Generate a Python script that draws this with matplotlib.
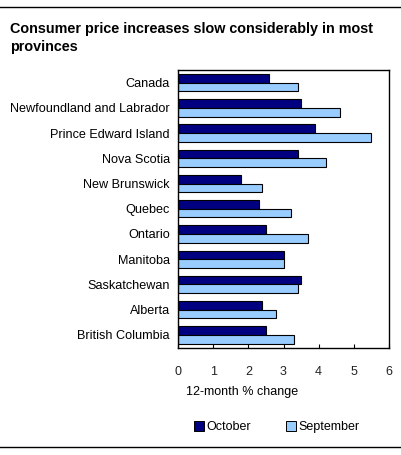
import matplotlib.pyplot as plt
import numpy as np
from matplotlib.lines import Line2D

provinces = ['Canada', 'Newfoundland and Labrador', 'Prince Edward Island',
             'Nova Scotia', 'New Brunswick', 'Quebec', 'Ontario', 'Manitoba',
             'Saskatchewan', 'Alberta', 'British Columbia']
october = [2.6, 3.5, 3.9, 3.4, 1.8, 2.3, 2.5, 3.0, 3.5, 2.4, 2.5]
september = [3.4, 4.6, 5.5, 4.2, 2.4, 3.2, 3.7, 3.0, 3.4, 2.8, 3.3]
xticks = [0, 1, 2, 3, 4, 5, 6]

plt.rcParams['font.family'] = ['Liberation Sans', 'DejaVu Sans']

fig = plt.figure(figsize=(4.01, 4.55), dpi=100)
ax = fig.add_axes([178 / 401, 1 - 347.5 / 455, 211 / 401, 277.5 / 455])

y = np.arange(len(provinces))
h = 0.345
ax.barh(y - h / 2, october, height=h, color='#000080', edgecolor='black', linewidth=0.8)
ax.barh(y + h / 2, september, height=h, color='#99ccff', edgecolor='black', linewidth=0.8)

ax.set_xlim(0, 6)
ax.set_ylim(len(provinces) - 0.5, -0.5)
ax.set_xticks(xticks)
ax.set_xticklabels([str(t) for t in xticks], fontsize=9, color='#222222')
ax.set_yticks(y)
ax.set_yticklabels(provinces, fontsize=9.1)
ax.tick_params(axis='x', direction='in', length=3, pad=13, width=0.8)
ax.tick_params(axis='y', length=0, pad=6)
for s in ax.spines.values():
    s.set_linewidth(1.0)

fig.text(186 / 401, 1 - 392 / 455, '12-month % change', fontsize=9, va='center', ha='left')

handles = [Line2D([], [], marker='s', linestyle='none', markersize=6.5,
                  markerfacecolor='#000080', markeredgecolor='black', markeredgewidth=0.7),
           Line2D([], [], marker='s', linestyle='none', markersize=6.5,
                  markerfacecolor='#99ccff', markeredgecolor='black', markeredgewidth=0.7)]
fig.legend(handles, ['October', 'September'], loc='center left', bbox_to_anchor=(195 / 401, 1 - 427 / 455),
           ncol=2, frameon=False, fontsize=9, handlelength=0.6, handletextpad=0.3,
           columnspacing=2.9, borderpad=0, borderaxespad=0)

fig.text(10 / 401, 1 - 29 / 455, 'Consumer price increases slow considerably in most',
         fontsize=10.4, fontweight='bold', va='center', ha='left')
fig.text(10 / 401, 1 - 47 / 455, 'provinces',
         fontsize=10.4, fontweight='bold', va='center', ha='left')

fig.add_artist(Line2D([0, 1], [1 - 7 / 455, 1 - 7 / 455], color='black', linewidth=1))
fig.add_artist(Line2D([0, 1], [1 - 447 / 455, 1 - 447 / 455], color='black', linewidth=1))

fig.savefig('out.png', dpi=100)
